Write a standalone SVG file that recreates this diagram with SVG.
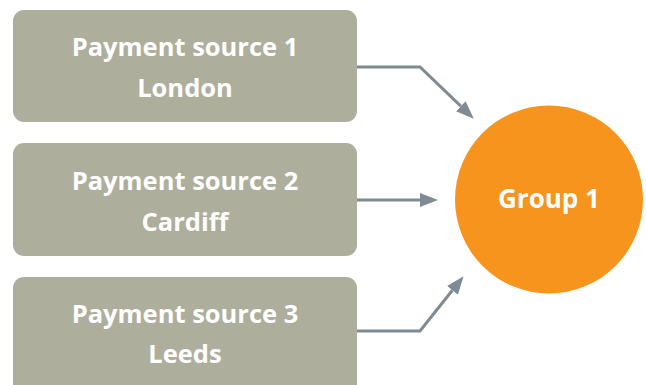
<svg xmlns="http://www.w3.org/2000/svg" width="646" height="385" viewBox="0 0 646 385">
<style>
.box{fill:#ADAE9C}
.lbl{fill:#FFFFFF;font-family:"Open Sans","Liberation Sans",sans-serif;font-weight:700;font-size:25.5px;text-anchor:middle}
.conn{fill:none;stroke:#7F8B93;stroke-width:3}
</style>
<defs>
<marker id="ah" markerUnits="userSpaceOnUse" markerWidth="18" markerHeight="14" refX="0" refY="7" orient="auto">
<path d="M0,0 L18,7 L0,14 Z" fill="#7F8B93"/>
</marker>
</defs>
<rect width="646" height="385" fill="#FFFFFF"/>
<g id="connectors">
<path class="conn" d="M357,67 H420 L460.8,106.2" marker-end="url(#ah)"/>
<path class="conn" d="M357,200 H420" marker-end="url(#ah)"/>
<path class="conn" d="M357,331 H420 L452.4,290.3" marker-end="url(#ah)"/>
</g>
<g id="source1">
<rect class="box" x="13" y="10" width="344" height="112" rx="11"/>
<text class="lbl" x="185" y="56">Payment source 1</text>
<text class="lbl" x="185" y="97">London</text>
</g>
<g id="source2">
<rect class="box" x="13" y="143" width="344" height="113" rx="11"/>
<text class="lbl" x="185" y="190">Payment source 2</text>
<text class="lbl" x="185" y="231">Cardiff</text>
</g>
<g id="source3">
<rect class="box" x="13" y="277" width="344" height="118" rx="11"/>
<text class="lbl" x="185" y="323">Payment source 3</text>
<text class="lbl" x="185" y="363">Leeds</text>
</g>
<g id="group1">
<circle cx="549" cy="199.5" r="94" fill="#F7941E"/>
<text class="lbl" x="549" y="208" style="font-size:26px">Group 1</text>
</g>
</svg>
